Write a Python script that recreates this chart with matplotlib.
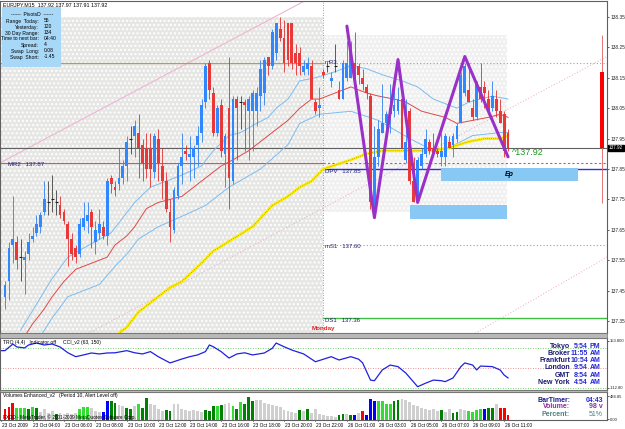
import numpy as np
import matplotlib.pyplot as plt
from matplotlib.patches import Rectangle

plt.rcParams['font.family'] = ['Liberation Sans', 'DejaVu Sans']

# ---- EURJPY M15 bars ----
opens = [137.43, 137.48, 137.60, 137.61, 137.56, 137.55, 137.57, 137.62, 137.64, 137.66,
         137.71, 137.74, 137.75, 137.74, 137.73, 137.71, 137.67, 137.62, 137.59, 137.57,
         137.66, 137.68, 137.71, 137.61, 137.64, 137.66, 137.63, 137.82, 137.79, 137.80,
         137.82, 137.86, 137.95, 137.96, 137.97, 137.93, 137.92, 137.92, 137.84, 137.95,
         137.86, 137.81, 137.71, 137.65, 137.76, 137.86, 137.91, 137.89, 137.89, 137.93,
         137.97, 138.07, 138.20, 138.10, 137.97, 138.06, 137.90, 138.05, 137.81, 138.08,
         138.07, 138.07, 138.04, 138.04, 138.04, 138.09, 138.10, 138.22, 138.19, 138.23,
         138.31, 138.28, 138.33, 138.33, 138.23, 138.23, 138.17, 138.18, 138.19, 138.07,
         138.05, 138.17, 138.19, 138.14, 138.19, 138.11, 138.08, 138.15, 138.15, 138.20,
         138.19, 138.15, 138.12, 138.09, 137.73, 137.89, 137.97, 138.00, 138.03, 138.04,
         138.04, 138.08, 137.88, 138.04, 137.81, 137.74, 137.86, 137.90, 137.94, 137.92,
         137.91, 137.89, 137.89, 137.94, 137.93, 137.95, 138.00, 138.10, 138.11, 138.05,
         138.02, 138.12, 138.12, 138.08, 138.05, 138.08, 138.04, 138.03, 137.97]
highs = [137.48, 137.61, 137.76, 137.63, 137.62, 137.58, 137.64, 137.66, 137.70, 137.71,
         137.81, 137.81, 137.83, 137.78, 137.76, 137.72, 137.68, 137.64, 137.60, 137.69,
         137.74, 137.74, 137.72, 137.68, 137.72, 137.68, 137.82, 137.83, 137.81, 137.92,
         137.88, 137.96, 137.99, 138.01, 138.03, 137.95, 137.97, 137.97, 137.97, 137.98,
         137.92, 137.84, 137.75, 137.79, 137.87, 137.97, 137.93, 137.96, 137.93, 137.99,
         138.08, 138.20, 138.21, 138.12, 138.06, 138.08, 137.97, 138.22, 138.09, 138.09,
         138.09, 138.08, 138.09, 138.11, 138.12, 138.21, 138.22, 138.22, 138.31, 138.33,
         138.35, 138.34, 138.33, 138.33, 138.26, 138.25, 138.21, 138.22, 138.21, 138.08,
         138.12, 138.18, 138.20, 138.17, 138.26, 138.14, 138.21, 138.27, 138.27, 138.30,
         138.20, 138.18, 138.13, 138.10, 137.99, 138.01, 138.13, 138.04, 138.13, 138.12,
         138.12, 138.09, 138.08, 138.05, 137.89, 137.89, 137.92, 137.98, 137.95, 137.97,
         137.92, 137.97, 137.97, 137.96, 137.97, 138.00, 138.17, 138.20, 138.20, 138.08,
         138.14, 138.20, 138.14, 138.11, 138.14, 138.11, 138.08, 138.04, 137.98]
lows = [137.39, 137.42, 137.54, 137.52, 137.48, 137.44, 137.55, 137.61, 137.63, 137.64,
        137.70, 137.70, 137.71, 137.70, 137.69, 137.67, 137.53, 137.55, 137.54, 137.56,
        137.65, 137.64, 137.59, 137.57, 137.62, 137.62, 137.60, 137.77, 137.76, 137.78,
        137.80, 137.81, 137.90, 137.89, 137.82, 137.81, 137.82, 137.79, 137.82, 137.81,
        137.75, 137.71, 137.61, 137.64, 137.75, 137.80, 137.88, 137.81, 137.82, 137.86,
        137.94, 138.05, 138.08, 137.96, 137.96, 137.89, 137.79, 137.72, 137.80, 137.88,
        137.98, 137.91, 137.88, 137.91, 137.99, 138.04, 138.06, 138.16, 138.18, 138.21,
        138.27, 138.17, 138.19, 138.18, 138.16, 138.16, 138.16, 138.16, 138.08, 138.03,
        138.02, 138.15, 138.17, 138.12, 138.17, 138.08, 138.08, 138.14, 138.15, 138.15,
        138.13, 138.11, 138.08, 137.72, 137.69, 137.86, 137.97, 137.98, 137.97, 138.02,
        138.03, 137.92, 137.87, 137.80, 137.74, 137.74, 137.85, 137.89, 137.90, 137.89,
        137.89, 137.86, 137.86, 137.92, 137.89, 137.94, 138.00, 138.09, 138.07, 138.01,
        138.01, 138.07, 138.05, 138.04, 138.04, 138.02, 138.00, 137.89, 137.91]
closes = [137.47, 137.59, 137.62, 137.55, 137.56, 137.56, 137.61, 137.63, 137.67, 137.70,
          137.75, 137.74, 137.75, 137.74, 137.70, 137.68, 137.62, 137.57, 137.56, 137.67,
          137.69, 137.70, 137.66, 137.65, 137.67, 137.63, 137.81, 137.80, 137.78, 137.82,
          137.86, 137.94, 137.95, 137.99, 137.92, 137.87, 137.85, 137.85, 137.96, 137.87,
          137.81, 137.72, 137.66, 137.78, 137.86, 137.89, 137.90, 137.90, 137.92, 137.96,
          138.06, 138.19, 138.11, 137.97, 138.05, 137.91, 137.96, 137.82, 138.08, 138.05,
          138.07, 138.06, 138.08, 138.10, 138.10, 138.18, 138.21, 138.19, 138.30, 138.33,
          138.28, 138.20, 138.21, 138.20, 138.20, 138.19, 138.19, 138.20, 138.08, 138.04,
          138.06, 138.16, 138.19, 138.15, 138.19, 138.08, 138.20, 138.20, 138.26, 138.15,
          138.16, 138.13, 138.10, 137.74, 137.89, 137.98, 138.00, 138.03, 138.05, 138.06,
          138.08, 137.92, 137.94, 137.81, 137.74, 137.88, 137.90, 137.95, 137.91, 137.90,
          137.90, 137.91, 137.96, 137.92, 137.96, 137.99, 138.16, 138.19, 138.07, 138.02,
          138.13, 138.08, 138.10, 138.04, 138.09, 138.04, 138.00, 137.91, 137.92]

# moving average / envelope, sampled at bar positions
ma_idx = [5, 7, 10, 12, 15, 18, 22, 26, 28, 31, 33, 36, 39, 42, 45, 48, 51, 55, 58, 62,
          65, 68, 72, 75, 78, 80, 84, 88, 92, 95, 99, 102, 106, 109, 112, 115, 119, 123, 126, 128]
ma_mid = [137.30, 137.34, 137.39, 137.43, 137.48, 137.52, 137.54, 137.56, 137.60, 137.63,
          137.66, 137.72, 137.74, 137.75, 137.76, 137.79, 137.82, 137.86, 137.88, 137.91,
          137.94, 137.97, 138.01, 138.05, 138.08, 138.08, 138.10, 138.12, 138.10, 138.09,
          138.08, 138.07, 138.04, 138.03, 138.02, 138.00, 138.01, 138.02, 138.03, 138.02]
up_idx = [4, 12, 16, 20, 27, 33, 37, 41, 45, 50, 53, 57, 60, 64, 67, 69, 72, 75, 79, 84,
          88, 92, 96, 101, 105, 109, 113, 115, 118, 121, 124, 128]
ma_up = [137.32, 137.49, 137.56, 137.59, 137.64, 137.74, 137.79, 137.81, 137.83, 137.86,
         137.91, 137.96, 137.97, 138.00, 138.02, 138.05, 138.08, 138.14, 138.15, 138.17,
         138.19, 138.18, 138.16, 138.14, 138.12, 138.08, 138.06, 138.05, 138.07, 138.08,
         138.09, 138.08]
lo_idx = [9, 12, 16, 20, 24, 28, 31, 34, 39, 46, 51, 57, 65, 72, 75, 80, 88, 95, 103, 109,
          113, 119, 126, 128]
ma_lo = [137.30, 137.36, 137.43, 137.45, 137.47, 137.53, 137.57, 137.62, 137.66, 137.70,
         137.73, 137.79, 137.85, 137.93, 138.00, 138.03, 138.04, 138.01, 137.95, 137.91,
         137.92, 137.96, 137.97, 137.97]
slow_idx = [28, 31, 34, 39, 42, 45, 50, 53, 58, 63, 68, 72, 75, 78, 81, 88, 92, 96, 105,
            109, 113, 118, 122, 126, 128]
ma_slow = [137.30, 137.33, 137.38, 137.43, 137.46, 137.48, 137.54, 137.58, 137.62, 137.66,
           137.73, 137.76, 137.79, 137.81, 137.85, 137.88, 137.90, 137.91, 137.91, 137.91,
           137.92, 137.94, 137.95, 137.95, 137.96]

# hand-drawn zigzag
zz_idx = [87, 94, 100, 105, 117, 128]
zz_px = [138.32, 137.69, 138.21, 137.74, 138.22, 137.89]

# pivot levels
pivots = {'mR3': 138.20, 'MR2': 137.87, 'DPV': 137.85, 'mS1': 137.60, 'DS1': 137.36}
last_price = 137.92

# CCI sampled along the bars
cci_idx = [-1, 0, 2, 3, 5, 6, 8, 10, 12, 14, 16, 18, 20, 22, 24, 26, 28, 31, 33, 35, 37,
           39, 42, 45, 47, 49, 51, 52, 53, 55, 57, 59, 61, 63, 66, 68, 69, 71, 73, 76, 79,
           81, 83, 85, 88, 90, 91, 93, 94, 96, 98, 100, 102, 105, 107, 109, 111, 112, 114,
           116, 117, 119, 120, 121, 124, 126, 127, 128]
cci_val = [89, 89, 123, 108, 103, 118, 128, 118, 123, 108, 78, 58, 67, 77, 72, 77, 78, 89,
           78, 72, 84, 58, 26, 46, 58, 67, 84, 118, 109, 84, 51, 72, 78, 67, 77, 101, 128,
           109, 92, 72, 32, 45, 58, 41, 58, 45, 26, -62, -65, -10, 15, 7, -26, -96, -78, -62,
           -65, -70, -51, 7, 26, 15, -10, 10, 7, -10, -36, -51]

# volumes with the indicator's colour code
volumes = [220, 260, 350, 240, 240, 250, 220, 260, 250, 170, 215, 150, 180, 115, 150, 115,
           150, 115, 150, 230, 260, 260, 250, 180, 160, 170, 380, 380, 350, 300, 290, 250,
           220, 290, 330, 250, 440, 330, 310, 220, 190, 200, 190, 330, 320, 220, 200, 190,
           200, 180, 170, 210, 190, 280, 290, 300, 330, 340, 280, 230, 370, 330, 460, 380,
           410, 410, 350, 320, 300, 280, 260, 200, 180, 170, 150, 200, 180, 230, 150, 220,
           120, 100, 80, 90, 70, 100, 120, 130, 110, 100, 140, 180, 100, 430, 380, 380, 380,
           320, 330, 380, 400, 430, 410, 370, 300, 280, 250, 220, 200, 230, 180, 200, 160,
           230, 150, 170, 220, 210, 180, 160, 200, 220, 230, 240, 250, 330, 250, 240, 100]
vol_code = ('rrrlllglgkkkkgkkkkklllkkkbbggkkggklggkkkkggkkkkkkkkgggl'
            'gkklglgggkkkkkkkkkkkgkgkkkkkkkggkgbkrbbbllllggkkkkkkkkkk'
            'gkkggkkllllbggk')

xlabels = ['23 Oct 2009', '23 Oct 04:00', '23 Oct 06:00', '23 Oct 08:00', '23 Oct 10:00',
           '23 Oct 12:00', '23 Oct 14:00', '23 Oct 16:00', '23 Oct 18:00', '23 Oct 20:00',
           '23 Oct 22:00', '26 Oct 01:00', '26 Oct 03:00', '26 Oct 05:00', '26 Oct 07:00',
           '26 Oct 09:00', '26 Oct 11:00']
xlabel_idx = [-1, 7, 15, 23, 31, 39, 47, 55, 63, 71, 79, 87, 95, 103, 111, 119, 127]

info_rows = [('Range  Today:', '55'), ('Yesterday:', '120'), ('30 Day Range:', '134'),
             ('Time to next bar:', '04:40'), ('Spread:', '4'), ('Swap  Long:', '0.08'),
             ('Swap  Short:', '-1.45')]
clocks = [('Tokyo', '5:54', 'PM'), ('Broker', '11:55', 'AM'), ('Frankfurt', '10:54', 'AM'),
          ('London', '9:54', 'AM'), ('GMT', '8:54', 'AM'), ('New York', '4:54', 'AM')]

# ---------------------------------------------------------------
W, H = 625, 429
X0, DX = 5, 3.93          # pixel centre of bar 0 and pixels per bar
PY, PPX = 169, 304        # pixel row of 137.85 and pixels per yen


def i_at(px):
    return (px - X0) / DX


def p_at(py):
    return 137.85 + (PY - py) / PPX


def fx(px):
    return px / W


def fy(py):
    return 1 - py / H


fig = plt.figure(figsize=(6.25, 4.29), dpi=100)

def panel(top, bottom):
    a = fig.add_axes([0, fy(bottom), fx(607), (bottom - top) / H])
    a.set_xlim(i_at(0), i_at(607))
    a.set_xticks([])
    for s in a.spines.values():
        s.set_color('#606060')
        s.set_linewidth(0.8)
    a.yaxis.tick_right()
    a.tick_params(axis='y', labelsize=3.4, length=1.5, width=0.5, pad=0.8, colors='#202020')
    return a

ax = panel(1, 333)
ax.set_ylim(p_at(333), p_at(1))
sep = i_at(323)

# background areas
ax.add_patch(Rectangle((i_at(0), p_at(333)), sep - i_at(0), p_at(17) - p_at(333),
                       facecolor='#e6e6e4', edgecolor='white', hatch='....', lw=0, zorder=0))
ax.add_patch(Rectangle((sep, p_at(212)), i_at(507) - sep, p_at(35) - p_at(212),
                       facecolor='#f0f0f0', edgecolor='white', hatch='....', lw=0, zorder=0))
ax.axvline(sep, color='#808080', lw=0.6, ls=(0, (1, 2)), zorder=1)

# trend lines
ax.plot([i_at(0), i_at(303)], [137.87, 138.40], color='#f0b4d4', lw=0.8, zorder=1)
ax.plot([i_at(83), i_at(607)], [137.30, 138.22], color='#e8a8cc', lw=0.7, ls=(0, (1, 2)), zorder=1)
ax.plot([i_at(470), i_at(607)], [137.30, 137.56], color='#e8a8cc', lw=0.7, ls=(0, (1, 2)), zorder=1)

# pivot lines
ax.plot([i_at(0), sep], [pivots['mR3']] * 2, color='#b0a060', lw=0.9, zorder=1)
ax.plot([sep, i_at(607)], [pivots['mR3']] * 2, color='#b0a060', lw=0.8, ls=(0, (1, 2)), zorder=1)
ax.plot([i_at(0), sep], [pivots['MR2']] * 2, color='#e05050', lw=0.8, zorder=1)
ax.plot([sep, i_at(607)], [pivots['MR2']] * 2, color='#e05050', lw=0.8, ls=(0, (2, 2)), zorder=1)
ax.plot([sep, i_at(607)], [pivots['DPV']] * 2, color='#3030e0', lw=1.0, zorder=1)
ax.plot([sep, i_at(607)], [pivots['mS1']] * 2, color='#b0a060', lw=0.8, ls=(0, (1, 2)), zorder=1)
ax.plot([sep, i_at(607)], [pivots['DS1']] * 2, color='#40c040', lw=1.0, zorder=1)
ax.axhline(last_price, color='#606060', lw=0.8, zorder=1)

lab = dict(fontsize=4.3, color='#202070', va='center', zorder=6)
ax.text(i_at(8), pivots['MR2'] - 0.005, 'MR2   %.2f' % pivots['MR2'], **lab)
ax.text(sep + 0.5, pivots['mR3'], 'mR3', **lab)
ax.text(sep + 0.5, pivots['DPV'] - 0.008, 'DPV   %.2f' % pivots['DPV'], **lab)
ax.text(sep + 0.5, pivots['mS1'] - 0.006, 'mS1   %.2f' % pivots['mS1'], **lab)
ax.text(sep + 0.5, pivots['DS1'] - 0.008, 'DS1   %.2f' % pivots['DS1'], **lab)
ax.text(sep, p_at(329), 'Monday', fontsize=4.5, color='#e02020', weight='bold',
        ha='center', va='center', zorder=6)

# zones
ax.add_patch(Rectangle((i_at(441), p_at(181)), i_at(578) - i_at(441), p_at(168) - p_at(181),
                       facecolor='#88c8f4', lw=0, zorder=2))
ax.text((i_at(441) + i_at(578)) / 2, p_at(175), 'Ep', fontsize=5, style='italic',
        weight='bold', ha='center', va='center', zorder=6)
ax.add_patch(Rectangle((i_at(410), p_at(219)), i_at(507) - i_at(410), p_at(205) - p_at(219),
                       facecolor='#88c8f4', lw=0, zorder=2))

# envelopes and averages
ax.plot(up_idx, ma_up, color='#7cbcf0', lw=0.7, zorder=3)
ax.plot(lo_idx, ma_lo, color='#7cbcf0', lw=0.7, zorder=3)
ax.plot(ma_idx, ma_mid, color='#e04848', lw=0.7, zorder=3)
ax.plot(slow_idx, ma_slow, color='#ffee00', lw=2.0, zorder=3)
ax.plot(slow_idx, ma_slow, color='#8a7a00', lw=0.5, ls=(0, (1, 2)), zorder=3)

# candles
o, h, l, c = map(np.array, (opens, highs, lows, closes))
idx = np.arange(len(c))
bull, bear, flat = c > o, c < o, c == o
ax.vlines(idx[bull], l[bull], h[bull], color='#2f80f0', lw=0.6, zorder=4)
ax.vlines(idx[bear], l[bear], h[bear], color='#e03030', lw=0.6, zorder=4)
ax.vlines(idx[flat], l[flat], h[flat], color='#404040', lw=0.6, zorder=4)
ax.bar(idx[bull], (c - o)[bull], bottom=o[bull], width=0.72, color='#2f88ff', lw=0, zorder=4)
ax.bar(idx[bear], (o - c)[bear], bottom=c[bear], width=0.72, color='#e83838', lw=0, zorder=4)
ax.hlines(o[flat], idx[flat] - 0.4, idx[flat] + 0.4, color='#202020', lw=0.8, zorder=4)

ax.plot(zz_idx, zz_px, color='#9a30c8', lw=2.2, solid_capstyle='round', zorder=5)

# daily range bar at the right edge
ax.vlines(i_at(601.5), p_at(203), p_at(35), color='#e06060', lw=0.6, zorder=4)
ax.add_patch(Rectangle((i_at(600), p_at(148)), i_at(603.5) - i_at(600), p_at(72) - p_at(148),
                       facecolor='#ff0000', lw=0, zorder=4))
ax.text(i_at(512), last_price - 0.015, '^137.92', fontsize=6.5, color='#1a9a1a',
        va='center', zorder=6)

ticks = [138.35, 138.25, 138.15, 138.05, 137.95, 137.85, 137.75, 137.65, 137.55, 137.45, 137.35]
ax.set_yticks(ticks)
ax.set_yticklabels(['%.2f' % t for t in ticks])
ax.text(1.003, (last_price - p_at(333)) / (p_at(1) - p_at(333)), '%.2f' % last_price,
        transform=ax.transAxes, fontsize=3.3, color='white', va='center',
        bbox=dict(boxstyle='square,pad=0.12', fc='black', ec='black'), clip_on=False)

# info box
fig.text(fx(3), fy(5), 'EURJPY,M15  137.92 137.97 137.91 137.92', fontsize=3.8, va='center')
fig.patches.append(Rectangle((fx(2), fy(67)), fx(59), 60 / H, transform=fig.transFigure,
                             facecolor='#a8d8f8', lw=0, zorder=5))
fig.text(fx(32), fy(15), '------  PivotsD  ------', fontsize=3.6, ha='center', va='center', zorder=6)
for k, (name, val) in enumerate(info_rows):
    yy = 21 + k * 6
    fig.text(fx(39), fy(yy), name, fontsize=3.6, ha='right', va='center', zorder=6)
    fig.text(fx(44), fy(yy), val, fontsize=3.6, ha='left', va='center', zorder=6)

# ---- CCI panel ----
cx = panel(338, 390)
cx.set_ylim(-112.8, 153.8)
cx.axhline(100, color='#40c040', lw=0.6, ls=(0, (1, 2)))
cx.axhline(0, color='#e07070', lw=0.6, ls=(0, (1, 2)))
cx.axhline(-100, color='#40c040', lw=0.6, ls=(0, (1, 2)))
cx.plot(cci_idx, cci_val, color='#2020e0', lw=0.9)
cx.set_yticks([140, -100])
cx.set_yticklabels(['153.800', '-112.80'], fontsize=3.0)
cx.text(i_at(3), 145, 'TRO (4,4)   Indicator off     CCI_v2 (63, 150)', fontsize=3.6, va='top')
for k, (city, t, ap) in enumerate(clocks):
    yy = 346 + k * 7.3
    fig.text(fx(570), fy(yy), city, fontsize=5, weight='bold', color='#1a1a70', ha='right', va='center')
    fig.text(fx(588), fy(yy), t, fontsize=5, weight='bold', color='#2828d8', ha='right', va='center')
    fig.text(fx(590), fy(yy), ap, fontsize=5, weight='bold', color='#2828d8', ha='left', va='center')

# ---- volume panel ----
vx = panel(392, 420)
vx.set_ylim(0, 566)
palette = {'r': '#ff0000', 'b': '#0000ff', 'g': '#008000', 'l': '#33dd33', 'k': '#cfcfcf'}
vx.bar(np.arange(len(volumes)), volumes, width=0.72, color=[palette[ch] for ch in vol_code], lw=0)
vx.set_yticks([484.85, 20])
vx.set_yticklabels(['484.85', '0.00'], fontsize=3.0)
vx.text(i_at(3), 540, 'Volumes Enhanced_v2   (Period 10, Alert Level off)', fontsize=3.6, va='top')
vx.text(i_at(3), 60, 'FXDD - MetaTrader, \u00a9 2001-2009 MetaQuotes Software Corp.', fontsize=3.4,
        va='center', zorder=6)
for k, (name, val, col) in enumerate([('BarTimer:', '04:43', '#1a1a90'), ('Volume:', '98 v', '#9030a0'),
                                      ('Percent:', '51%', '#508080')]):
    yy = 400 + k * 7
    fig.text(fx(570), fy(yy), name, fontsize=5, weight='bold', color=col, ha='right', va='center')
    fig.text(fx(603), fy(yy), val, fontsize=5, weight='bold' if k < 2 else 'normal',
             color=col if k else '#2828d8', ha='right', va='center')

for pos, txt in zip(xlabel_idx, xlabels):
    vx.plot([pos, pos], [0, -25], color='#404040', lw=0.5, clip_on=False)
    vx.text(pos + 0.2, -70, txt, fontsize=3.4, ha='left', va='top', clip_on=False)

# window separators between panels
for top, bot in [(333, 338), (390, 392)]:
    fig.patches.append(Rectangle((0, fy(bot)), fx(607), (bot - top) / H, transform=fig.transFigure,
                                 facecolor='#b8b8b8', edgecolor='#707070', lw=0.5))

fig.savefig('out.png', dpi=100)
